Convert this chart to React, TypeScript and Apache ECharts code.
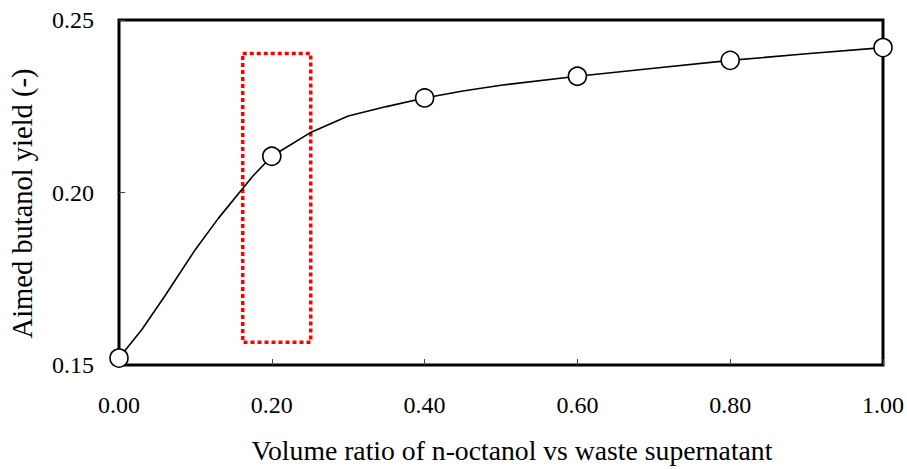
import React, { useEffect, useRef } from "react";
import * as echarts from "echarts";

// Volume ratio (n-octanol : waste supernatant) of the measured points
const ratioPoints = [0, 0.2, 0.4, 0.6, 0.8, 1.0];
const yieldPoints = [0.152, 0.2105, 0.2274, 0.2337, 0.2383, 0.242];

// Fitted curve through the measurements
const curveRatio = [0, 0.03, 0.06, 0.1, 0.13, 0.175, 0.2, 0.25, 0.3, 0.35, 0.4, 0.45, 0.5, 0.6, 0.7, 0.8, 0.9, 1.0];
const curveYield = [0.152, 0.1603, 0.170, 0.1835, 0.1925, 0.2047, 0.2105, 0.2173, 0.2222, 0.2249, 0.2274, 0.2294, 0.2311, 0.2337, 0.236, 0.2383, 0.2402, 0.242];

// Highlighted operating window (ratio range, yield range)
const windowRatio = [0.162, 0.251];
const windowYield = [0.1566, 0.2403];

const FONT = "'Liberation Serif', 'Times New Roman', serif";

export default function App() {
  const ref = useRef<HTMLDivElement>(null);

  useEffect(() => {
    if (!ref.current) return;
    const chart = echarts.init(ref.current, undefined, { renderer: "svg" });
    const fmt = (v: number) => v.toFixed(2);
    chart.setOption({
      animation: false,
      backgroundColor: "#ffffff",
      grid: {
        left: 119,
        right: 22,
        top: 20,
        bottom: 100,
        show: true,
        borderColor: "#000",
        borderWidth: 3,
      },
      xAxis: {
        type: "value",
        min: 0,
        max: 1,
        interval: 0.2,
        name: "Volume ratio of n-octanol vs waste supernatant",
        nameLocation: "middle",
        nameGap: 71,
        nameTextStyle: { fontFamily: FONT, fontSize: 27.7, color: "#000", padding: [0, 0, 0, 22] },
        axisLine: { show: false },
        axisTick: { show: true, inside: true, length: 6, lineStyle: { color: "#444", width: 1 } },
        splitLine: { show: false },
        axisLabel: { formatter: fmt, fontFamily: FONT, fontSize: 24, color: "#000", margin: 28 },
      },
      yAxis: {
        type: "value",
        min: 0.15,
        max: 0.25,
        interval: 0.05,
        name: "Aimed butanol yield (-)",
        nameLocation: "middle",
        nameGap: 82,
        nameTextStyle: { fontFamily: FONT, fontSize: 28.5, color: "#000", padding: [0, 22, 0, 0] },
        axisLine: { show: false },
        axisTick: { show: true, inside: true, length: 6, lineStyle: { color: "#444", width: 1 } },
        splitLine: { show: false },
        axisLabel: { formatter: fmt, fontFamily: FONT, fontSize: 24, color: "#000", margin: 25 },
      },
      series: [
        {
          type: "line",
          data: curveRatio.map((x, i) => [x, curveYield[i]]),
          showSymbol: false,
          symbol: "none",
          lineStyle: { color: "#000", width: 1.6 },
          z: 2,
          markArea: {
            silent: true,
            itemStyle: {
              color: "rgba(0,0,0,0)",
              borderColor: "#ff0000",
              borderWidth: 3.5,
              borderType: [4, 3],
            },
            data: [
              [
                { coord: [windowRatio[0], windowYield[1]] },
                { coord: [windowRatio[1], windowYield[0]] },
              ],
            ],
          },
        },
        {
          type: "scatter",
          data: ratioPoints.map((x, i) => [x, yieldPoints[i]]),
          symbol: "circle",
          symbolSize: 18,
          clip: false,
          itemStyle: { color: "#fff", borderColor: "#000", borderWidth: 1.6, opacity: 1 },
          z: 5,
        },
      ],
    });
    return () => chart.dispose();
  }, []);

  return (
    <div
      ref={ref}
      style={{ position: "fixed", left: 0, top: 0, width: 907, height: 469, background: "#fff" }}
    />
  );
}
